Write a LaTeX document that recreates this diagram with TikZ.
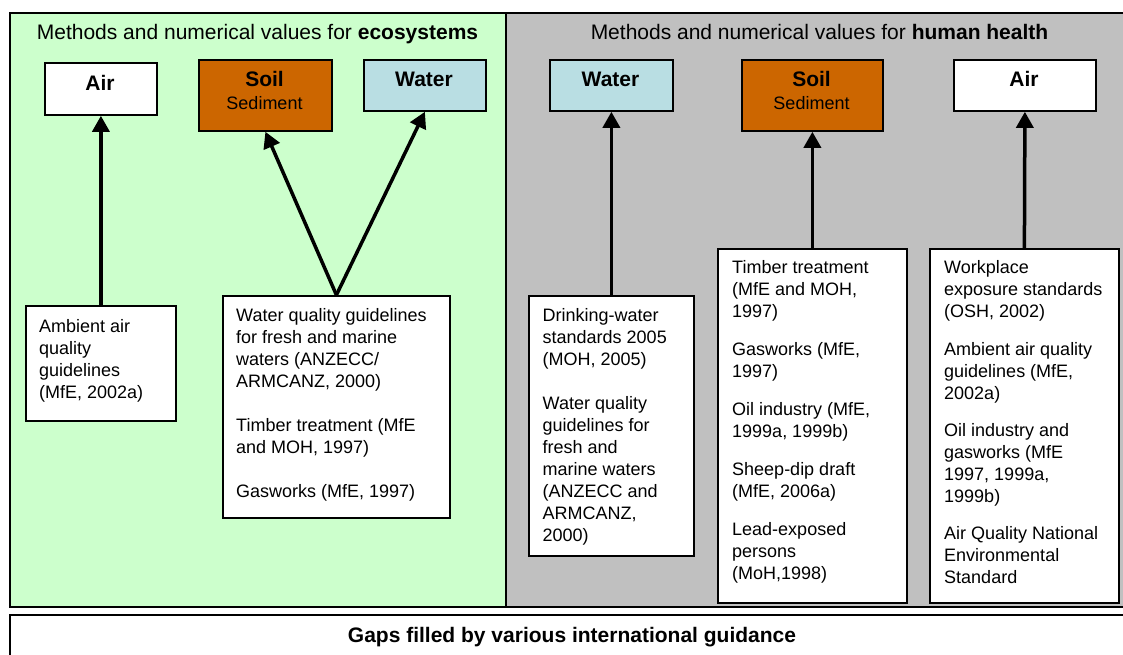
\documentclass[tikz,border=0pt]{standalone}
\usepackage{fontspec}
\setmainfont{Liberation Sans}
\usetikzlibrary{arrows.meta}
\definecolor{ecogreen}{HTML}{CCFFCC}
\definecolor{hhgray}{HTML}{C0C0C0}
\definecolor{soilc}{HTML}{CC6600}
\definecolor{waterc}{HTML}{B9DEE3}
\begin{document}
\begin{tikzpicture}[x=1pt,y=-1pt,font=\fontsize{18}{22}\selectfont,
  panel/.style={draw=black,line width=1.8pt},
  box/.style={draw=black,line width=1.8pt,fill=white,inner sep=0pt,anchor=north west},
  arr/.style={line width=3.5pt,-{Triangle[length=16pt,width=17pt]}},
  txt/.style={anchor=base west,align=left,inner sep=0pt},
  lbl/.style={anchor=base,inner sep=0pt},
  big/.style={font=\fontsize{21}{25}\selectfont}]
\useasboundingbox (0,0) rectangle (1123,655);
% panels
\node[panel,fill=ecogreen,inner sep=0pt,anchor=north west,minimum width=496pt,minimum height=594pt] (eco) at (9,12) {};
\node[panel,fill=hhgray,inner sep=0pt,anchor=north west,minimum width=630pt,minimum height=594pt] (hh) at (505,12) {};
\node[panel,fill=white,inner sep=0pt,anchor=north west,minimum width=1126pt,minimum height=60pt] (gaps) at (9,614) {};
\node[lbl,big] (ecotitle) at (257.5,39.5) {Methods and numerical values for \textbf{ecosystems}};
\node[lbl,big] (hhtitle) at (819.5,39.5) {Methods and numerical values for \textbf{human health}};
\node[lbl,big] (gapstext) at (572,642) {\textbf{Gaps filled by various international guidance}};
% top boxes
\node[box,minimum width=112pt,minimum height=52pt] (ecoair) at (44,62) {};
\node[box,fill=soilc,minimum width=133pt,minimum height=71pt] (ecosoil) at (198,59) {};
\node[box,fill=waterc,minimum width=122pt,minimum height=51pt] (ecowater) at (363,59) {};
\node[box,fill=waterc,minimum width=123pt,minimum height=51pt] (hhwater) at (549,59) {};
\node[box,fill=soilc,minimum width=141pt,minimum height=71pt] (hhsoil) at (741,59) {};
\node[box,minimum width=142pt,minimum height=51pt] (hhair) at (953,59) {};
\node[lbl,big] (l1) at (100,91) {\textbf{Air}};
\node[lbl,big] (l2) at (264.5,87) {\textbf{Soil}};
\node[lbl] (l2b) at (264.5,110) {Sediment};
\node[lbl,big] (l3) at (424,87) {\textbf{Water}};
\node[lbl,big] (l4) at (610.5,87) {\textbf{Water}};
\node[lbl,big] (l5) at (811.5,87) {\textbf{Soil}};
\node[lbl] (l5b) at (811.5,110) {Sediment};
\node[lbl,big] (l6) at (1024,87) {\textbf{Air}};
% bottom boxes
\node[box,minimum width=150pt,minimum height=115pt] (amb) at (25,305) {};
\node[box,minimum width=227pt,minimum height=222pt] (wqe) at (222,295) {};
\node[box,minimum width=165pt,minimum height=260pt] (drink) at (528,295) {};
\node[box,minimum width=189pt,minimum height=354pt] (timber) at (717,248) {};
\node[box,minimum width=189pt,minimum height=354pt] (work) at (929,248) {};
% text nodes: anchor base = baseline of last line
\node[txt] (tamb) at (39,398) {Ambient air\\quality\\guidelines\\(MfE, 2002a)};
\node[txt] (twqe) at (236,497) {Water quality guidelines\\for fresh and marine\\waters (ANZECC/\\ARMCANZ, 2000)\\[22pt]Timber treatment (MfE\\and MOH, 1997)\\[22pt]Gasworks (MfE, 1997)};
\node[txt] (tdrink) at (542.5,541) {Drinking-water\\standards 2005\\(MOH, 2005)\\[22pt]Water quality\\guidelines for\\fresh and\\marine waters\\(ANZECC and\\ARMCANZ,\\2000)};
\node[txt] (ttimber) at (732,579) {Timber treatment\\(MfE and MOH,\\1997)\\[16pt]Gasworks (MfE,\\1997)\\[16pt]Oil industry (MfE,\\1999a, 1999b)\\[16pt]Sheep-dip draft\\(MfE, 2006a)\\[16pt]Lead-exposed\\persons\\(MoH,1998)};
\node[txt] (twork) at (944,583) {Workplace\\exposure standards\\(OSH, 2002)\\[16pt]Ambient air quality\\guidelines (MfE,\\2002a)\\[15pt]Oil industry and\\gasworks (MfE\\1997, 1999a,\\1999b)\\[15pt]Air Quality National\\Environmental\\Standard};
% arrows
\draw[arr] (amb.north) -- (ecoair.south);
\draw[arr] (wqe.north) -- (ecosoil.south);
\draw[arr] (wqe.north) -- (ecowater.south);
\draw[arr] (drink.north) -- (hhwater.south);
\draw[arr] (timber.north) -- (hhsoil.south);
\draw[arr] (work.north) -- (hhair.south);
\end{tikzpicture}
\end{document}
